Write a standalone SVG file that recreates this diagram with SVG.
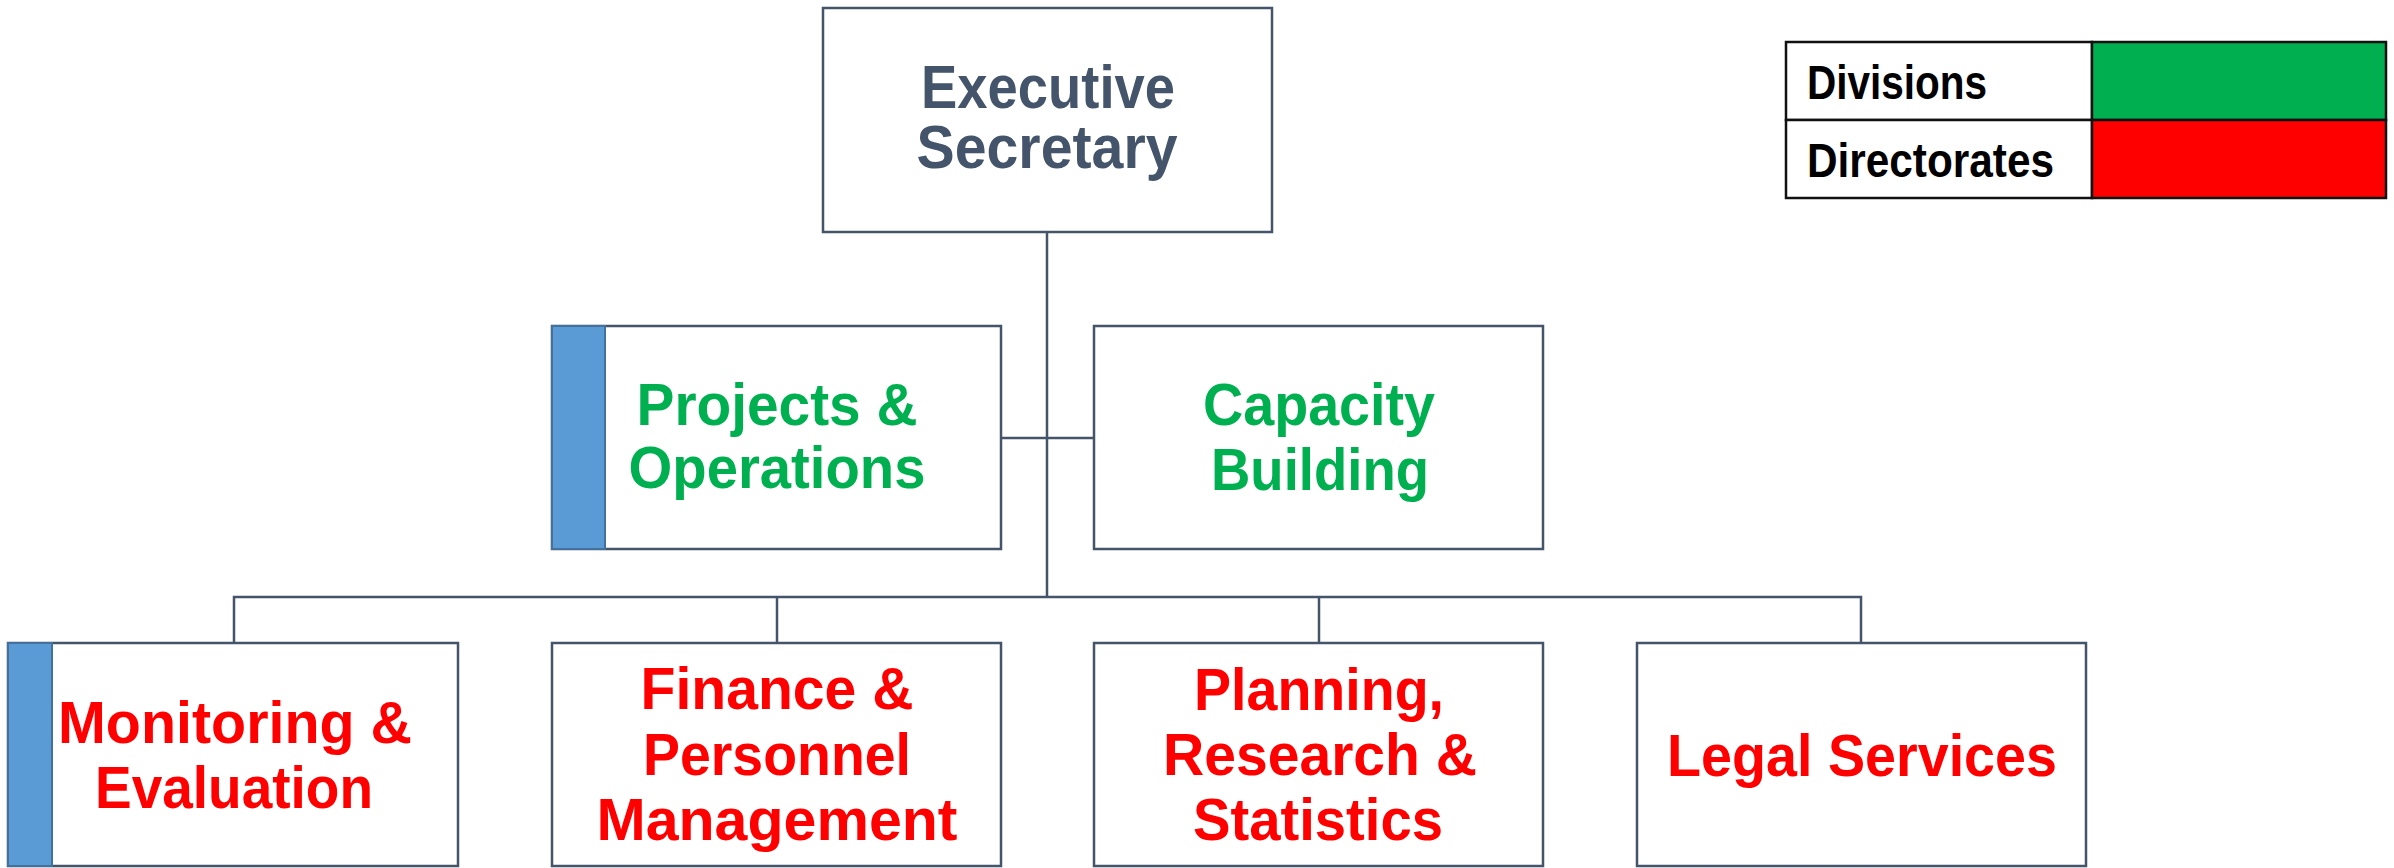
<svg xmlns="http://www.w3.org/2000/svg" width="2394" height="868" viewBox="0 0 2394 868">
<style>
.box{fill:#FFFFFF;stroke:#44546A;stroke-width:2.5}
.bar{fill:#5B9BD5;stroke:#41719C;stroke-width:2}
.conn{fill:none;stroke:#44546A;stroke-width:2.5}
.t{font-family:"Liberation Sans",Arial,sans-serif;font-weight:bold;font-size:60px;text-anchor:middle}
.exec{fill:#44546A;font-size:62px}
.div{fill:#00B050}
.dir{fill:#FF0000}
.leg{font-family:"Liberation Sans",Arial,sans-serif;font-weight:bold;font-size:48px;fill:#000000}
.legbox{stroke:#111111;stroke-width:2.5}
</style>
<rect width="2394" height="868" fill="#FFFFFF"/>
<g id="connectors">
<path class="conn" d="M1047 232 V597"/>
<path class="conn" d="M1001 438 H1094"/>
<path class="conn" d="M234 643 V597 H1861 V643"/>
<path class="conn" d="M777 597 V643"/>
<path class="conn" d="M1319 597 V643"/>
</g>
<g id="executive-secretary">
<rect class="box" x="823" y="8" width="449" height="224"/>
<text class="t exec" x="1048" y="108" textLength="254" lengthAdjust="spacingAndGlyphs">Executive</text>
<text class="t exec" x="1047" y="168" textLength="261" lengthAdjust="spacingAndGlyphs">Secretary</text>
</g>
<g id="projects-operations">
<rect class="box" x="552" y="326" width="449" height="223"/>
<rect class="bar" x="552" y="326" width="53" height="223"/>
<text class="t div" x="777" y="425" textLength="281" lengthAdjust="spacingAndGlyphs">Projects &amp;</text>
<text class="t div" x="777" y="488" textLength="297" lengthAdjust="spacingAndGlyphs">Operations</text>
</g>
<g id="capacity-building">
<rect class="box" x="1094" y="326" width="449" height="223"/>
<text class="t div" x="1319" y="425" textLength="232" lengthAdjust="spacingAndGlyphs">Capacity</text>
<text class="t div" x="1320" y="490" textLength="218" lengthAdjust="spacingAndGlyphs">Building</text>
</g>
<g id="monitoring-evaluation">
<rect class="box" x="8" y="643" width="450" height="223"/>
<rect class="bar" x="8" y="643" width="44" height="223"/>
<text class="t dir" x="235" y="743" textLength="354" lengthAdjust="spacingAndGlyphs">Monitoring &amp;</text>
<text class="t dir" x="234" y="808" textLength="278" lengthAdjust="spacingAndGlyphs">Evaluation</text>
</g>
<g id="finance-personnel">
<rect class="box" x="552" y="643" width="449" height="223"/>
<text class="t dir" x="777" y="709" textLength="273" lengthAdjust="spacingAndGlyphs">Finance &amp;</text>
<text class="t dir" x="777" y="775" textLength="268" lengthAdjust="spacingAndGlyphs">Personnel</text>
<text class="t dir" x="777" y="840" textLength="361" lengthAdjust="spacingAndGlyphs">Management</text>
</g>
<g id="planning-research">
<rect class="box" x="1094" y="643" width="449" height="223"/>
<text class="t dir" x="1319" y="710" textLength="250" lengthAdjust="spacingAndGlyphs">Planning,</text>
<text class="t dir" x="1320" y="775" textLength="314" lengthAdjust="spacingAndGlyphs">Research &amp;</text>
<text class="t dir" x="1318" y="840" textLength="250" lengthAdjust="spacingAndGlyphs">Statistics</text>
</g>
<g id="legal-services">
<rect class="box" x="1637" y="643" width="449" height="223"/>
<text class="t dir" x="1862" y="776" textLength="390" lengthAdjust="spacingAndGlyphs">Legal Services</text>
</g>
<g id="legend">
<rect class="legbox" x="1786" y="42" width="306" height="78" fill="#FFFFFF"/>
<rect class="legbox" x="2092" y="42" width="294" height="78" fill="#00B050"/>
<rect class="legbox" x="1786" y="120" width="306" height="78" fill="#FFFFFF"/>
<rect class="legbox" x="2092" y="120" width="294" height="78" fill="#FF0000"/>
<text class="leg" x="1807" y="99" textLength="180" lengthAdjust="spacingAndGlyphs">Divisions</text>
<text class="leg" x="1807" y="177" textLength="247" lengthAdjust="spacingAndGlyphs">Directorates</text>
</g>
</svg>
